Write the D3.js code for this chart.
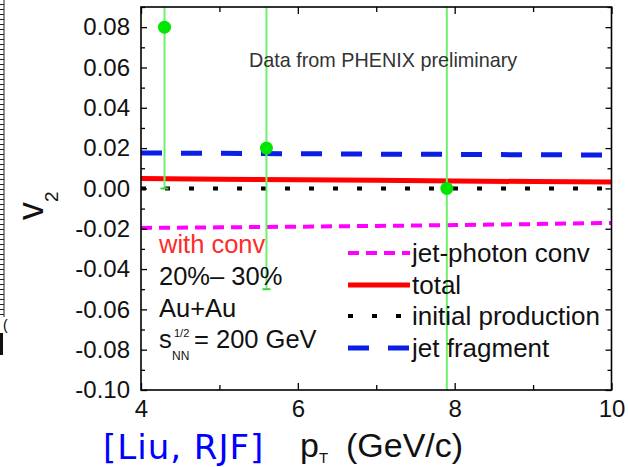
<!DOCTYPE html>
<html>
<head>
<meta charset="utf-8">
<script src="https://cdn.jsdelivr.net/npm/d3@7"></script>
<style>
  body { margin: 0; background: #fff; }
  svg { display: block; font-family: "Liberation Sans", Arial, sans-serif; }
</style>
</head>
<body>
<svg width="628" height="467"></svg>
<script>
// v2 of direct photons vs pT, data points + model curves

// phenix points
const ptData = [4.3, 5.6, 7.9];
const v2Data = [0.08, 0.02, 0.0];
const v2Err = [0.08, 0.07, 0.12];

const ptGrid = [4, 5, 6, 7, 8, 9, 10];
const jetPhotonConv = [-0.0196, -0.0193, -0.0190, -0.0186, -0.0182, -0.0177, -0.0171];
const total = [0.0049, 0.0046, 0.0043, 0.0040, 0.0037, 0.0034, 0.0032];
const initialProduction = [0.0, 0.0, 0.0, 0.0, 0.0, 0.0, 0.0];
const jetFragment = [0.0176, 0.0174, 0.0172, 0.0170, 0.0169, 0.0167, 0.0166];

const seriesNames = ["jet-photon conv", "total", "initial production", "jet fragment"];

const xTicks = [4, 6, 8, 10];
const xTickLabels = ["4", "6", "8", "10"];
const xMinor = [5, 7, 9];
const yTicks = [-0.10, -0.08, -0.06, -0.04, -0.02, 0.00, 0.02, 0.04, 0.06, 0.08];
const yTickLabels = ["-0.10", "-0.08", "-0.06", "-0.04", "-0.02", "0.00", "0.02", "0.04", "0.06", "0.08"];
const yMinor = [-0.09, -0.07, -0.05, -0.03, -0.01, 0.01, 0.03, 0.05, 0.07, 0.09];

const infoLines = ["with conv", "20%\u2013 30%", "Au+Au"];

let svg = d3.select('svg');

const pLeft = 141, pRight = 611.5, pTop = 7, pBottom = 390;

let xScale = d3.scaleLinear().domain([4, 10]).range([pLeft, pRight]);
let yScale = d3.scaleLinear().domain([-0.10, 0.09]).range([pBottom, pTop]);

// scrap of the neighbouring figure on the far left
let defs = svg.append('defs');
let pat = defs.append('pattern')
    .attr('id', 'ladder').attr('width', 5).attr('height', 5)
    .attr('patternUnits', 'userSpaceOnUse');
pat.append('line').attr('x1', 0).attr('x2', 5).attr('y1', 4.5).attr('y2', 4.5)
    .attr('stroke', '#222').attr('stroke-width', 1);
svg.append('rect').attr('x', 0).attr('y', 0).attr('width', 4).attr('height', 317)
    .attr('fill', 'url(#ladder)');
svg.append('line').attr('x1', 4).attr('x2', 4).attr('y1', 0).attr('y2', 317)
    .attr('stroke', '#222').attr('stroke-width', 1);
svg.append('rect').attr('x', 0).attr('y', 333).attr('width', 3).attr('height', 22).attr('fill', '#111');
svg.append('text').attr('x', 3).attr('y', 330).attr('font-size', 14).text('(');

defs.append('clipPath').attr('id', 'plotclip')
  .append('rect').attr('x', pLeft).attr('y', pTop).attr('width', pRight - pLeft).attr('height', pBottom - pTop);

let chart = svg.append('g');
let plot = chart.append('g').attr('clip-path', 'url(#plotclip)');

// curves
const curveStyles = [
    { data: jetPhotonConv, color: '#ff00ff', width: 4, dash: '11,7' },
    { data: total, color: '#ff0000', width: 5, dash: null },
    { data: initialProduction, color: '#000', width: 4, dash: '5,19' },
    { data: jetFragment, color: '#0a1ee6', width: 5, dash: '21,19' }
];

let line = d3.line()
    .x((d, i) => xScale(ptGrid[i]))
    .y(d => yScale(d));

curveStyles.forEach(s => {
    plot.append('path')
        .attr('d', line(s.data))
        .attr('fill', 'none')
        .attr('stroke', s.color)
        .attr('stroke-width', s.width)
        .attr('stroke-dasharray', s.dash);
});

// error bars
plot.selectAll('.errbar')
    .data(ptData)
    .enter()
    .append('line')
    .attr('x1', d => xScale(d)).attr('x2', d => xScale(d))
    .attr('y1', (d, i) => yScale(v2Data[i] - v2Err[i]))
    .attr('y2', (d, i) => yScale(v2Data[i] + v2Err[i]))
    .attr('stroke', '#6ef06e').attr('stroke-width', 2);

plot.selectAll('.errcap')
    .data(ptData)
    .enter()
    .append('line')
    .attr('x1', d => xScale(d) - 4).attr('x2', d => xScale(d) + 4)
    .attr('y1', (d, i) => yScale(v2Data[i] - v2Err[i]))
    .attr('y2', (d, i) => yScale(v2Data[i] - v2Err[i]))
    .attr('stroke', '#3cd23c').attr('stroke-width', 2);

chart.selectAll('.pt')
    .data(ptData)
    .enter()
    .append('circle')
    .attr('cx', d => xScale(d))
    .attr('cy', (d, i) => yScale(v2Data[i]))
    .attr('r', 6.5)
    .attr('fill', '#00e600');

// axes, ticks pointing inward on all four sides
function styleAxis(g) {
    g.select('.domain').remove();
    g.selectAll('line').attr('stroke', '#000').attr('stroke-width', 1.3);
    g.selectAll('text').attr('fill', '#111').attr('font-size', 24);
}

chart.append('g').attr('transform', `translate(${pLeft},0)`)
    .call(d3.axisLeft(yScale).tickValues(yTicks).tickSize(-6).tickPadding(11)
        .tickFormat((d, i) => yTickLabels[i]))
    .call(styleAxis);
chart.append('g').attr('transform', `translate(${pLeft},0)`)
    .call(d3.axisLeft(yScale).tickValues(yMinor).tickSize(-4).tickFormat(''))
    .call(styleAxis);
chart.append('g').attr('transform', `translate(${pRight},0)`)
    .call(d3.axisRight(yScale).tickValues(yTicks).tickSize(-6).tickFormat(''))
    .call(styleAxis);
chart.append('g').attr('transform', `translate(${pRight},0)`)
    .call(d3.axisRight(yScale).tickValues(yMinor).tickSize(-4).tickFormat(''))
    .call(styleAxis);

chart.append('g').attr('transform', `translate(0,${pBottom})`)
    .call(d3.axisBottom(xScale).tickValues(xTicks).tickSize(-7).tickPadding(10)
        .tickFormat((d, i) => xTickLabels[i]))
    .call(styleAxis);
chart.append('g').attr('transform', `translate(0,${pBottom})`)
    .call(d3.axisBottom(xScale).tickValues(xMinor).tickSize(-5).tickFormat(''))
    .call(styleAxis);
chart.append('g').attr('transform', `translate(0,${pTop})`)
    .call(d3.axisTop(xScale).tickValues(xTicks).tickSize(-7).tickFormat(''))
    .call(styleAxis);
chart.append('g').attr('transform', `translate(0,${pTop})`)
    .call(d3.axisTop(xScale).tickValues(xMinor).tickSize(-5).tickFormat(''))
    .call(styleAxis);

chart.append('rect')
    .attr('x', pLeft).attr('y', pTop)
    .attr('width', pRight - pLeft).attr('height', pBottom - pTop)
    .attr('fill', 'none').attr('stroke', '#000').attr('stroke-width', 1.6);

// annotation
chart.append('text')
    .attr('x', 249).attr('y', 67)
    .attr('font-size', 19.8).attr('fill', '#333')
    .text('Data from PHENIX preliminary');

// info block
const infoY = [253, 285, 317];
infoLines.forEach((t, i) => {
    chart.append('text')
        .attr('x', 159).attr('y', infoY[i])
        .attr('font-size', 25.5)
        .attr('fill', i == 0 ? '#ff2a2a' : '#111')
        .text(t);
});
let sqrts = chart.append('text').attr('x', 159).attr('y', 348).attr('font-size', 25.5).attr('fill', '#111');
sqrts.append('tspan').text('s');
sqrts.append('tspan').attr('x', 174).attr('y', 337).attr('font-size', 11).text('1/2');
sqrts.append('tspan').attr('x', 172).attr('y', 360).attr('font-size', 12).text('NN');
sqrts.append('tspan').attr('x', 194).attr('y', 348).text('= 200 GeV');

// legend
const legendY = [253, 285, 316, 348];
curveStyles.forEach((s, i) => {
    chart.append('line')
        .attr('x1', 348).attr('x2', 410)
        .attr('y1', legendY[i]).attr('y2', legendY[i])
        .attr('stroke', s.color)
        .attr('stroke-width', s.width)
        .attr('stroke-dasharray', s.dash);
    chart.append('text')
        .attr('x', 412).attr('y', legendY[i] + 9)
        .attr('font-size', 26).attr('fill', '#111')
        .text(seriesNames[i]);
});

// axis titles
let yText = svg.append('text')
    .attr('transform', 'translate(43,220) rotate(-90)')
    .attr('font-size', 36).attr('fill', '#111');
yText.append('tspan').text('v');
yText.append('tspan').attr('font-size', 19).attr('dy', 15).text('2');

let xText = svg.append('text')
    .attr('x', 300).attr('y', 457)
    .attr('font-size', 34).attr('fill', '#111');
xText.append('tspan').text('p');
xText.append('tspan').attr('font-size', 15).attr('dy', 6).text('T');
xText.append('tspan').attr('dy', -6).attr('x', 346).text('(GeV/c)');

svg.append('text')
    .attr('x', 103).attr('y', 459)
    .attr('font-family', '"Comic Sans MS", "DejaVu Sans", sans-serif')
    .attr('font-size', 34).attr('letter-spacing', 1).attr('fill', '#0000ff')
    .text('[Liu, RJF]');
</script>
</body>
</html>
